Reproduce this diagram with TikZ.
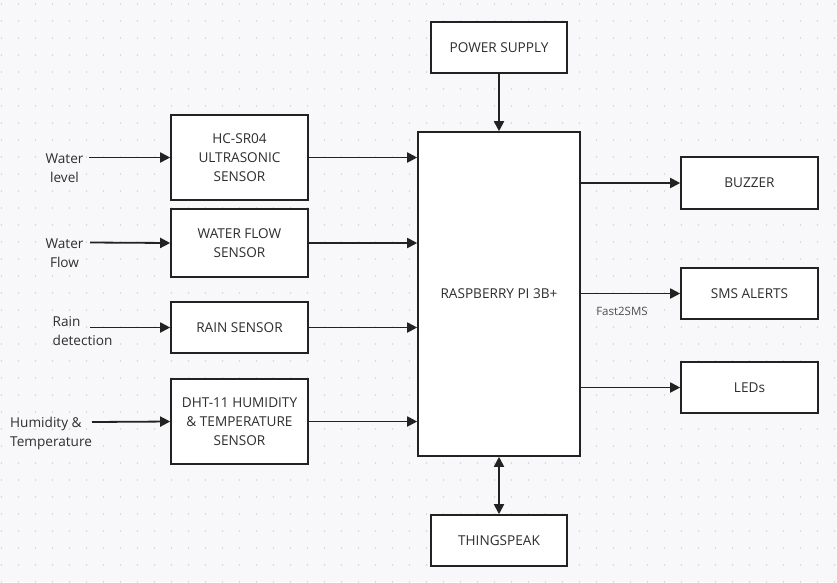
\documentclass[tikz,border=0pt]{standalone}
\usepackage{fontspec}
\setmainfont{Open Sans}
\usetikzlibrary{arrows.meta}
\definecolor{bg}{HTML}{F8F8FA}
\definecolor{dotc}{HTML}{D4D4DA}
\definecolor{txt}{HTML}{2E2E2E}
\definecolor{ln}{HTML}{222222}
\tikzset{
  blk/.style={draw=ln, line width=1.6pt, fill=white, align=center, inner sep=2pt,
    text=txt, font=\fontsize{13.6}{19}\selectfont},
  lbl/.style={text=txt, font=\fontsize{13.6}{19}\selectfont, inner sep=0pt},
  arr/.style={draw=ln, line width=1.8pt, -{Triangle[length=10pt,width=10pt]}},
  darr/.style={draw=ln, line width=1.8pt, {Triangle[length=10pt,width=10pt]}-{Triangle[length=10pt,width=10pt]}}
}
\begin{document}
\begin{tikzpicture}[x=1pt,y=-1pt]
\useasboundingbox (0,0) rectangle (837,582);
\fill[bg] (0,0) rectangle (837,582);
\foreach \i in {0,...,49} {
  \foreach \j in {0,...,34} {
    \fill[dotc] ({1.5+17*\i},{4+17*\j}) circle (0.9pt);
  }
}
% blocks
\node[blk, minimum width=136pt, minimum height=51pt] (ps) at (499,47.5) {POWER SUPPLY};
\node[blk, minimum width=162pt, minimum height=324pt] (rpi) at (499,294) {RASPBERRY PI 3B+};
\node[blk, minimum width=137pt, minimum height=85pt] (hc) at (239.5,157.5) {HC-SR04\\ULTRASONIC\\SENSOR};
\node[blk, minimum width=137pt, minimum height=68pt] (wf) at (239.5,243) {WATER FLOW\\SENSOR};
\node[blk, minimum width=137pt, minimum height=51pt] (rain) at (239.5,327.5) {RAIN SENSOR};
\node[blk, minimum width=137pt, minimum height=85pt] (dht) at (239.5,421.5) {DHT-11 HUMIDITY\\\& TEMPERATURE\\SENSOR};
\node[blk, minimum width=137pt, minimum height=52pt] (buz) at (749.5,183) {BUZZER};
\node[blk, minimum width=137pt, minimum height=51pt] (sms) at (749.5,293.5) {SMS ALERTS};
\node[blk, minimum width=137pt, minimum height=51pt] (led) at (749.5,387.5) {LEDs};
\node[blk, minimum width=136pt, minimum height=51pt] (ts) at (499,540.5) {THINGSPEAK};
% input labels
\node[lbl, align=center] (l1) at (64.5,168.5) {Water\\level};
\node[lbl, align=center] (l2) at (64.5,253.5) {Water\\Flow};
\node[lbl, align=left, anchor=west] (l3) at (52.5,331) {Rain\\detection};
\node[lbl, align=left, anchor=west] (l4) at (10,433) {Humidity \&\\Temperature};
\node[lbl, text=txt!85, font=\fontsize{11.5}{14}\selectfont] (f2s) at (622,311) {Fast2SMS};
\coordinate (s1) at (89,157.5);
\coordinate (s2) at (90,242.5);
\coordinate (s3) at (90,327.5);
\coordinate (s4) at (92,422);
% arrows
\draw[arr] (s1) -- (hc.west);
\draw[arr] (s2) -- (wf.west);
\draw[arr] (s3) -- (rain.west);
\draw[arr] (s4) -- (dht.west);
\draw[arr] (hc.east) -- (hc.east -| rpi.west);
\draw[arr] (wf.east) -- (wf.east -| rpi.west);
\draw[arr] (rain.east) -- (rain.east -| rpi.west);
\draw[arr] (dht.east) -- (dht.east -| rpi.west);
\draw[arr] (rpi.east |- buz.west) -- (buz.west);
\draw[arr] (rpi.east |- sms.west) -- (sms.west);
\draw[arr] (rpi.east |- led.west) -- (led.west);
\draw[arr] (ps.south) -- (rpi.north);
\draw[darr] (rpi.south) -- (ts.north);
\end{tikzpicture}
\end{document}
